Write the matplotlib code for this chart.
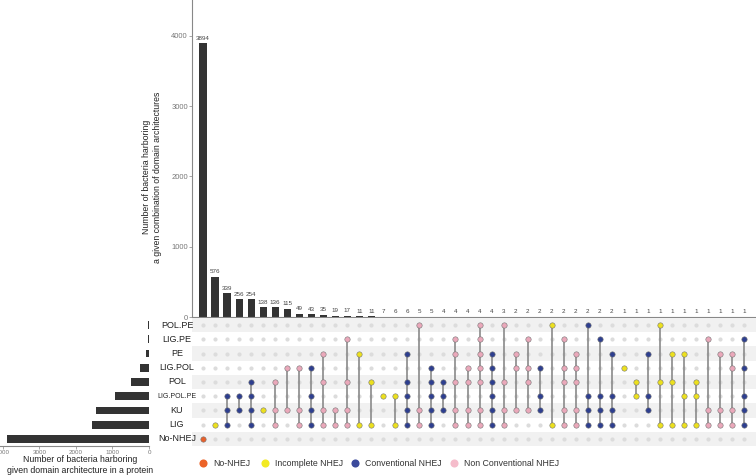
import matplotlib.pyplot as plt

plt.rcParams['font.family'] = ['Liberation Sans', 'DejaVu Sans']

# rows of the matrix, top to bottom
sets = ['POL.PE', 'LIG.PE', 'PE', 'LIG.POL', 'POL', 'LIG.POL.PE', 'KU', 'LIG', 'No-NHEJ']
set_sizes = [17, 33, 75, 237, 497, 937, 1461, 1551, 3894]

# intersections, left to right
counts = [3894, 576, 339, 256, 254, 138, 136, 115, 49, 43, 35, 19, 17, 11, 11, 7,
          6, 6, 5, 5, 4, 4, 4, 4, 4, 3, 2, 2, 2, 2, 2, 2, 2, 2, 2,
          1, 1, 1, 1, 1, 1, 1, 1, 1, 1, 1]

members = [
    ['No-NHEJ'],
    ['LIG'],
    ['LIG.POL.PE', 'KU', 'LIG'],
    ['LIG.POL.PE', 'KU'],
    ['POL', 'LIG.POL.PE', 'KU', 'LIG'],
    ['KU'],
    ['POL', 'KU', 'LIG'],
    ['LIG.POL', 'KU'],
    ['LIG.POL', 'KU', 'LIG'],
    ['LIG.POL', 'LIG.POL.PE', 'KU', 'LIG'],
    ['PE', 'POL', 'KU', 'LIG'],
    ['KU', 'LIG'],
    ['LIG.PE', 'POL', 'KU', 'LIG'],
    ['PE', 'LIG'],
    ['POL', 'LIG'],
    ['LIG.POL.PE'],
    ['LIG.POL.PE', 'LIG'],
    ['PE', 'POL', 'LIG.POL.PE', 'KU', 'LIG'],
    ['POL.PE', 'KU', 'LIG'],
    ['LIG.POL', 'POL', 'LIG.POL.PE', 'KU', 'LIG'],
    ['POL', 'LIG.POL.PE', 'KU'],
    ['LIG.PE', 'PE', 'POL', 'KU', 'LIG'],
    ['LIG.POL', 'POL', 'KU', 'LIG'],
    ['POL.PE', 'LIG.PE', 'PE', 'LIG.POL', 'POL', 'KU', 'LIG'],
    ['PE', 'LIG.POL', 'POL', 'LIG.POL.PE', 'KU', 'LIG'],
    ['POL.PE', 'POL', 'KU', 'LIG'],
    ['PE', 'LIG.POL', 'KU'],
    ['LIG.PE', 'LIG.POL', 'POL', 'KU'],
    ['LIG.POL', 'LIG.POL.PE', 'KU'],
    ['POL.PE', 'LIG'],
    ['LIG.PE', 'LIG.POL', 'POL', 'KU', 'LIG'],
    ['PE', 'LIG.POL', 'POL', 'KU', 'LIG'],
    ['POL.PE', 'LIG.POL.PE', 'KU', 'LIG'],
    ['LIG.PE', 'LIG.POL.PE', 'KU', 'LIG'],
    ['PE', 'LIG.POL.PE', 'KU', 'LIG'],
    ['LIG.POL'],
    ['POL', 'LIG.POL.PE'],
    ['PE', 'LIG.POL.PE', 'KU'],
    ['POL.PE', 'POL', 'LIG'],
    ['PE', 'POL', 'LIG'],
    ['PE', 'LIG.POL.PE', 'LIG'],
    ['POL', 'LIG.POL.PE', 'LIG'],
    ['LIG.PE', 'KU', 'LIG'],
    ['PE', 'KU', 'LIG'],
    ['PE', 'LIG.POL', 'KU', 'LIG'],
    ['LIG.PE', 'LIG.POL', 'LIG.POL.PE', 'KU', 'LIG'],
]

groups = ['No-NHEJ', 'Incomplete NHEJ', 'Conventional NHEJ', 'Conventional NHEJ',
          'Conventional NHEJ', 'Incomplete NHEJ', 'Non Conventional NHEJ',
          'Non Conventional NHEJ', 'Non Conventional NHEJ', 'Conventional NHEJ',
          'Non Conventional NHEJ', 'Non Conventional NHEJ', 'Non Conventional NHEJ',
          'Incomplete NHEJ', 'Incomplete NHEJ', 'Incomplete NHEJ', 'Incomplete NHEJ',
          'Conventional NHEJ', 'Non Conventional NHEJ', 'Conventional NHEJ',
          'Conventional NHEJ', 'Non Conventional NHEJ', 'Non Conventional NHEJ',
          'Non Conventional NHEJ', 'Conventional NHEJ', 'Non Conventional NHEJ',
          'Non Conventional NHEJ', 'Non Conventional NHEJ', 'Conventional NHEJ',
          'Incomplete NHEJ', 'Non Conventional NHEJ', 'Non Conventional NHEJ',
          'Conventional NHEJ', 'Conventional NHEJ', 'Conventional NHEJ',
          'Incomplete NHEJ', 'Incomplete NHEJ', 'Conventional NHEJ',
          'Incomplete NHEJ', 'Incomplete NHEJ', 'Incomplete NHEJ', 'Incomplete NHEJ',
          'Non Conventional NHEJ', 'Non Conventional NHEJ', 'Non Conventional NHEJ',
          'Conventional NHEJ']

legend_names = ['No-NHEJ', 'Incomplete NHEJ', 'Conventional NHEJ', 'Non Conventional NHEJ']
dot_colors = {'No-NHEJ': '#e8602a', 'Incomplete NHEJ': '#ece01e',
              'Conventional NHEJ': '#2e3f8f', 'Non Conventional NHEJ': '#eaa8ba'}
legend_colors = {'No-NHEJ': '#ec6328', 'Incomplete NHEJ': '#f2ea22',
                 'Conventional NHEJ': '#3b4a9c', 'Non Conventional NHEJ': '#f5bccb'}

W, H = 756, 475
fig = plt.figure(figsize=(W / 100, H / 100), dpi=100)


def px_axes(x0, y0, x1, y1):
    return fig.add_axes([x0 / W, 1 - y1 / H, (x1 - x0) / W, (y1 - y0) / H])


n = len(counts)
xlim = (-0.92, 46.0)

# intersection sizes
ax_bar = px_axes(192, 0, 756, 317)
ax_bar.bar(range(n), counts, width=0.6, color='#333333')
for i, c in enumerate(counts):
    ax_bar.text(i, c + 35, str(c), ha='center', va='bottom', fontsize=4.5, color='#444444')
ax_bar.set_xlim(*xlim)
ax_bar.set_ylim(0, 4510)
ax_bar.set_xticks([])
ax_bar.set_yticks([0, 1000, 2000, 3000, 4000])
ax_bar.tick_params(axis='y', labelsize=5.5, labelcolor='#777777', length=2,
                   color='#999999', width=0.6, pad=1)
for s in ['top', 'right']:
    ax_bar.spines[s].set_visible(False)
for s in ['left', 'bottom']:
    ax_bar.spines[s].set_color('#888888')
    ax_bar.spines[s].set_linewidth(0.8)

fig.text(152 / W, 1 - 177 / H,
         'Number of bacteria harboring\na given combination of domain architectures',
         rotation=90, ha='center', va='center', fontsize=6.3, color='#222222',
         multialignment='center', linespacing=1.3)

# matrix
ax_mat = px_axes(192, 318, 756, 446)
ax_mat.set_xlim(*xlim)
ax_mat.set_ylim(len(sets) - 0.5, -0.5)
ax_mat.axis('off')
for r in range(0, len(sets), 2):
    ax_mat.axhspan(r - 0.5, r + 0.5, color='#f1f1f1', zorder=0, lw=0)
for i in range(n):
    ax_mat.scatter([i] * len(sets), range(len(sets)), s=9, color='#dcdcdc',
                   lw=0, zorder=1)
for i, mem in enumerate(members):
    rows = [sets.index(m) for m in mem]
    if len(rows) > 1:
        ax_mat.plot([i, i], [min(rows), max(rows)], color='#8a8a8a', lw=1.2, zorder=2)
    ax_mat.scatter([i] * len(rows), rows, s=15, color=dot_colors[groups[i]],
                   edgecolor='#777777', linewidths=0.4, zorder=3)
for r, name in enumerate(sets):
    ax_mat.text((177 - 192) / 12.02 + xlim[0], r, name, ha='center', va='center',
                fontsize=5 if name == 'LIG.POL.PE' else 6.5, color='#222222',
                clip_on=False)

# set sizes
ax_set = px_axes(0, 318, 149, 446)
ax_set.barh(range(len(sets)), set_sizes, height=0.55, color='#333333')
ax_set.set_xlim(4082, 0)
ax_set.set_ylim(len(sets) - 0.5, -0.5)
ax_set.set_yticks([])
ax_set.set_xticks([0, 1000, 2000, 3000, 4000])
ax_set.tick_params(axis='x', labelsize=4.5, labelcolor='#777777', length=2,
                   color='#999999', width=0.6, pad=1)
for s in ['top', 'right', 'left']:
    ax_set.spines[s].set_visible(False)
ax_set.spines['bottom'].set_color('#888888')
ax_set.spines['bottom'].set_linewidth(0.8)
fig.text(80 / W, 1 - 465 / H,
         'Number of bacteria harboring\ngiven domain architecture in a protein',
         ha='center', va='center', fontsize=6.3, color='#222222', linespacing=1.3)

# legend
ax_leg = fig.add_axes([0, 0, 1, 1], zorder=-1)
ax_leg.set_xlim(0, W)
ax_leg.set_ylim(H, 0)
ax_leg.axis('off')
leg_x = [203, 265, 355, 454]
for x, name in zip(leg_x, legend_names):
    ax_leg.scatter([x], [463], s=34, color=legend_colors[name], lw=0)
    ax_leg.text(x + 10, 463, name, ha='left', va='center', fontsize=6.3, color='#333333')

fig.savefig('out.png', dpi=100)
